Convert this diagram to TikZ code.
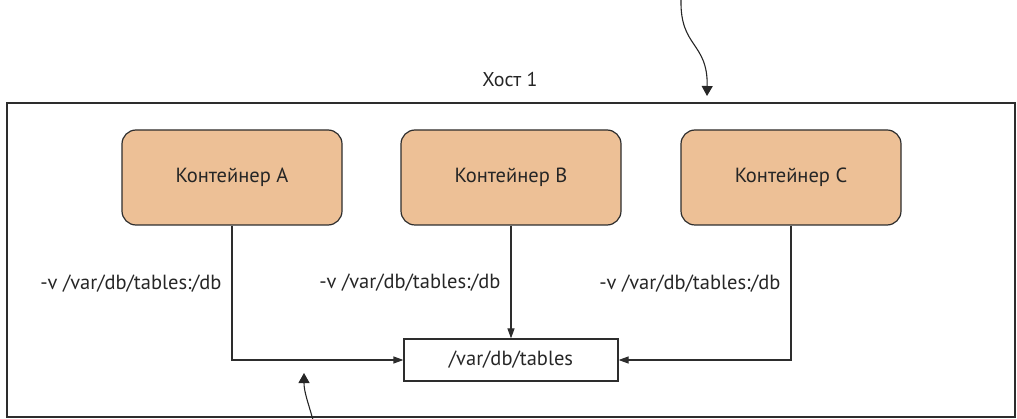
\documentclass[tikz,border=0pt]{standalone}
\usepackage{fontspec}
\setmainfont{PT Sans}
\usetikzlibrary{arrows.meta}
\definecolor{boxfill}{RGB}{237,192,150}
\definecolor{linegray}{RGB}{45,45,45}
\tikzset{
  container/.style={shape=rectangle,rounded corners=14pt,draw=linegray,fill=boxfill,line width=1.2pt,minimum width=220pt,minimum height=95pt,font=\fontsize{20.5}{24}\selectfont,text=black!85},
  hostbox/.style={shape=rectangle,draw=linegray,line width=2pt,minimum width=1008pt,minimum height=314pt},
  dirbox/.style={shape=rectangle,draw=linegray,line width=1.2pt,minimum width=214pt,minimum height=42pt,font=\fontsize{20.5}{24}\selectfont,text=black!85},
  caption/.style={font=\fontsize{20}{24}\selectfont,text=black!85},
  vol/.style={font=\fontsize{20.5}{24}\selectfont,text=black!85,inner sep=0pt,left=10pt},
  conn/.style={draw=linegray,line width=1.2pt,-{Triangle[length=10pt,width=7pt]}},
  curvy/.style={draw=black!85,line width=1.1pt,-{Triangle[length=10pt,width=11pt]}}
}
\begin{document}
\begin{tikzpicture}[x=1pt,y=-1pt]
    \useasboundingbox (0,0) rectangle (1017,419);
    \node[hostbox] (H) at (511,260) {};
    \node[caption] (HL) at (510,80) {Хост 1};
    \node[container] (A) at (232,177.5) {Контейнер A};
    \node[container] (B) at (511,177.5) {Контейнер B};
    \node[container] (C) at (791,177.5) {Контейнер C};
    \node[dirbox] (T) at (511,360) {/var/db/tables};
    \path [conn](A.south) |- node[vol,pos=0.215]{-v /var/db/tables:/db} (T.west);
    \path [conn](B.south) -- node[vol,pos=0.51]{-v /var/db/tables:/db} (T.north);
    \path [conn](C.south) |- node[vol,pos=0.215]{-v /var/db/tables:/db} (T.east);
    \coordinate (t1) at (681,0);
    \coordinate (t2) at (707,96);
    \coordinate (b1) at (313,420);
    \coordinate (b2) at (304,373);
    \path [curvy](t1) .. controls (680,48) and (708,42) .. (t2);
    \path [curvy](b1) .. controls (308,402) and (304,392) .. (b2);
\end{tikzpicture}
\end{document}
